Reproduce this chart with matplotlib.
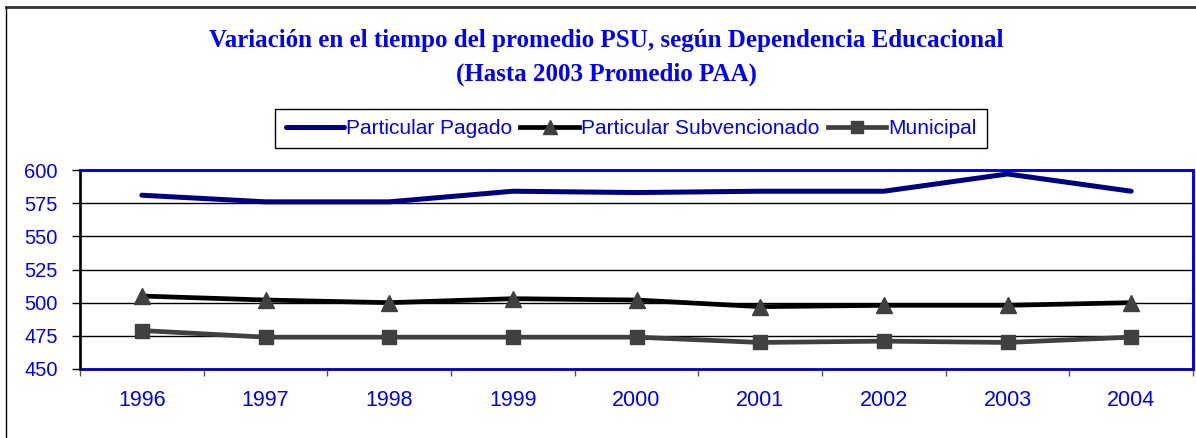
import matplotlib
matplotlib.use("Agg")
import matplotlib.pyplot as plt
from matplotlib.lines import Line2D
from matplotlib.patches import Rectangle

years = ["1996", "1997", "1998", "1999", "2000", "2001", "2002", "2003", "2004"]
pagado = [581, 576, 576, 584, 583, 584, 584, 597, 584]
subvencionado = [505, 502, 500, 503, 502, 497, 498, 498, 500]
municipal = [479, 474, 474, 474, 474, 470, 471, 470, 474]
series_names = ["Particular Pagado", "Particular Subvencionado", "Municipal"]
title1 = "Variación en el tiempo del promedio PSU, según Dependencia Educacional"
title2 = "(Hasta 2003 Promedio PAA)"
yticks = [450, 475, 500, 525, 550, 575, 600]

W, H = 1196, 438
fig = plt.figure(figsize=(W / 100, H / 100), dpi=100)
blue = "#0000ff"

ax = fig.add_axes([80 / W, 1 - 369 / H, (1193 - 80) / W, (369 - 170) / H])
x = list(range(len(years)))
ax.plot(x, pagado, color="#000080", lw=3.6, solid_capstyle="round", label=series_names[0], zorder=3)
ax.plot(x, subvencionado, color="black", lw=3.4, marker="^", markersize=11,
        markerfacecolor="#404040", markeredgecolor="#404040", label=series_names[1], zorder=3)
ax.plot(x, municipal, color="#404040", lw=3.4, marker="s", markersize=9.5,
        markerfacecolor="#404040", markeredgecolor="#404040", label=series_names[2], zorder=3)

ax.set_xlim(-0.5, len(years) - 0.5)
ax.set_ylim(450, 600)
ax.set_yticks(yticks)
ax.set_yticklabels([str(v) for v in yticks])
ax.set_xticks(x)
ax.set_xticklabels(years)
ax.set_xticks([i - 0.5 for i in range(len(years) + 1)], minor=True)
ax.tick_params(axis="x", which="major", length=0, pad=15, labelsize=15.5, labelcolor=blue,
               labelfontfamily="Liberation Sans")
ax.tick_params(axis="x", which="minor", length=5, width=1, color="#555555", direction="out")
ax.tick_params(axis="y", which="major", length=6, width=1, color="black", direction="out",
               pad=10, labelsize=14.5, labelcolor=blue, labelfontfamily="Liberation Sans")
for v in yticks[1:-1]:
    ax.axhline(v, color="black", lw=1.0, zorder=1)
for s in ["top", "right"]:
    ax.spines[s].set_color(blue)
    ax.spines[s].set_linewidth(2)
for s in ["left", "bottom"]:
    ax.spines[s].set_color("black")
    ax.spines[s].set_linewidth(1)
ax.add_patch(Rectangle((0, 0), 1, 1, transform=ax.transAxes, fill=False,
                       edgecolor=blue, lw=2, zorder=0.5, clip_on=False))

# outer chart border
fig.add_artist(Line2D([6 / W, 1], [1 - 7 / H, 1 - 7 / H], color="#333333", lw=2))
fig.add_artist(Line2D([6 / W, 6 / W], [0, 1 - 7 / H], color="black", lw=1))

fig.text(606 / W, 1 - 40 / H, title1, ha="center", va="center", color=blue,
         fontsize=18, fontweight="bold", family="Liberation Serif")
fig.text(606 / W, 1 - 74 / H, title2, ha="center", va="center", color=blue,
         fontsize=18, fontweight="bold", family="Liberation Serif")

leg = fig.legend(handles=ax.get_lines(), labels=series_names, ncol=3,
                 loc="center", bbox_to_anchor=(631 / W, 1 - 128.5 / H),
                 frameon=True, fancybox=False, edgecolor="black", framealpha=1,
                 handlelength=2.8, handletextpad=0.1, columnspacing=0.4,
                 borderpad=0.5, prop={"family": "Liberation Sans", "size": 15},
                 labelcolor=blue, markerscale=0.9)
leg.get_frame().set_linewidth(1)

fig.savefig("out.png", dpi=100)
